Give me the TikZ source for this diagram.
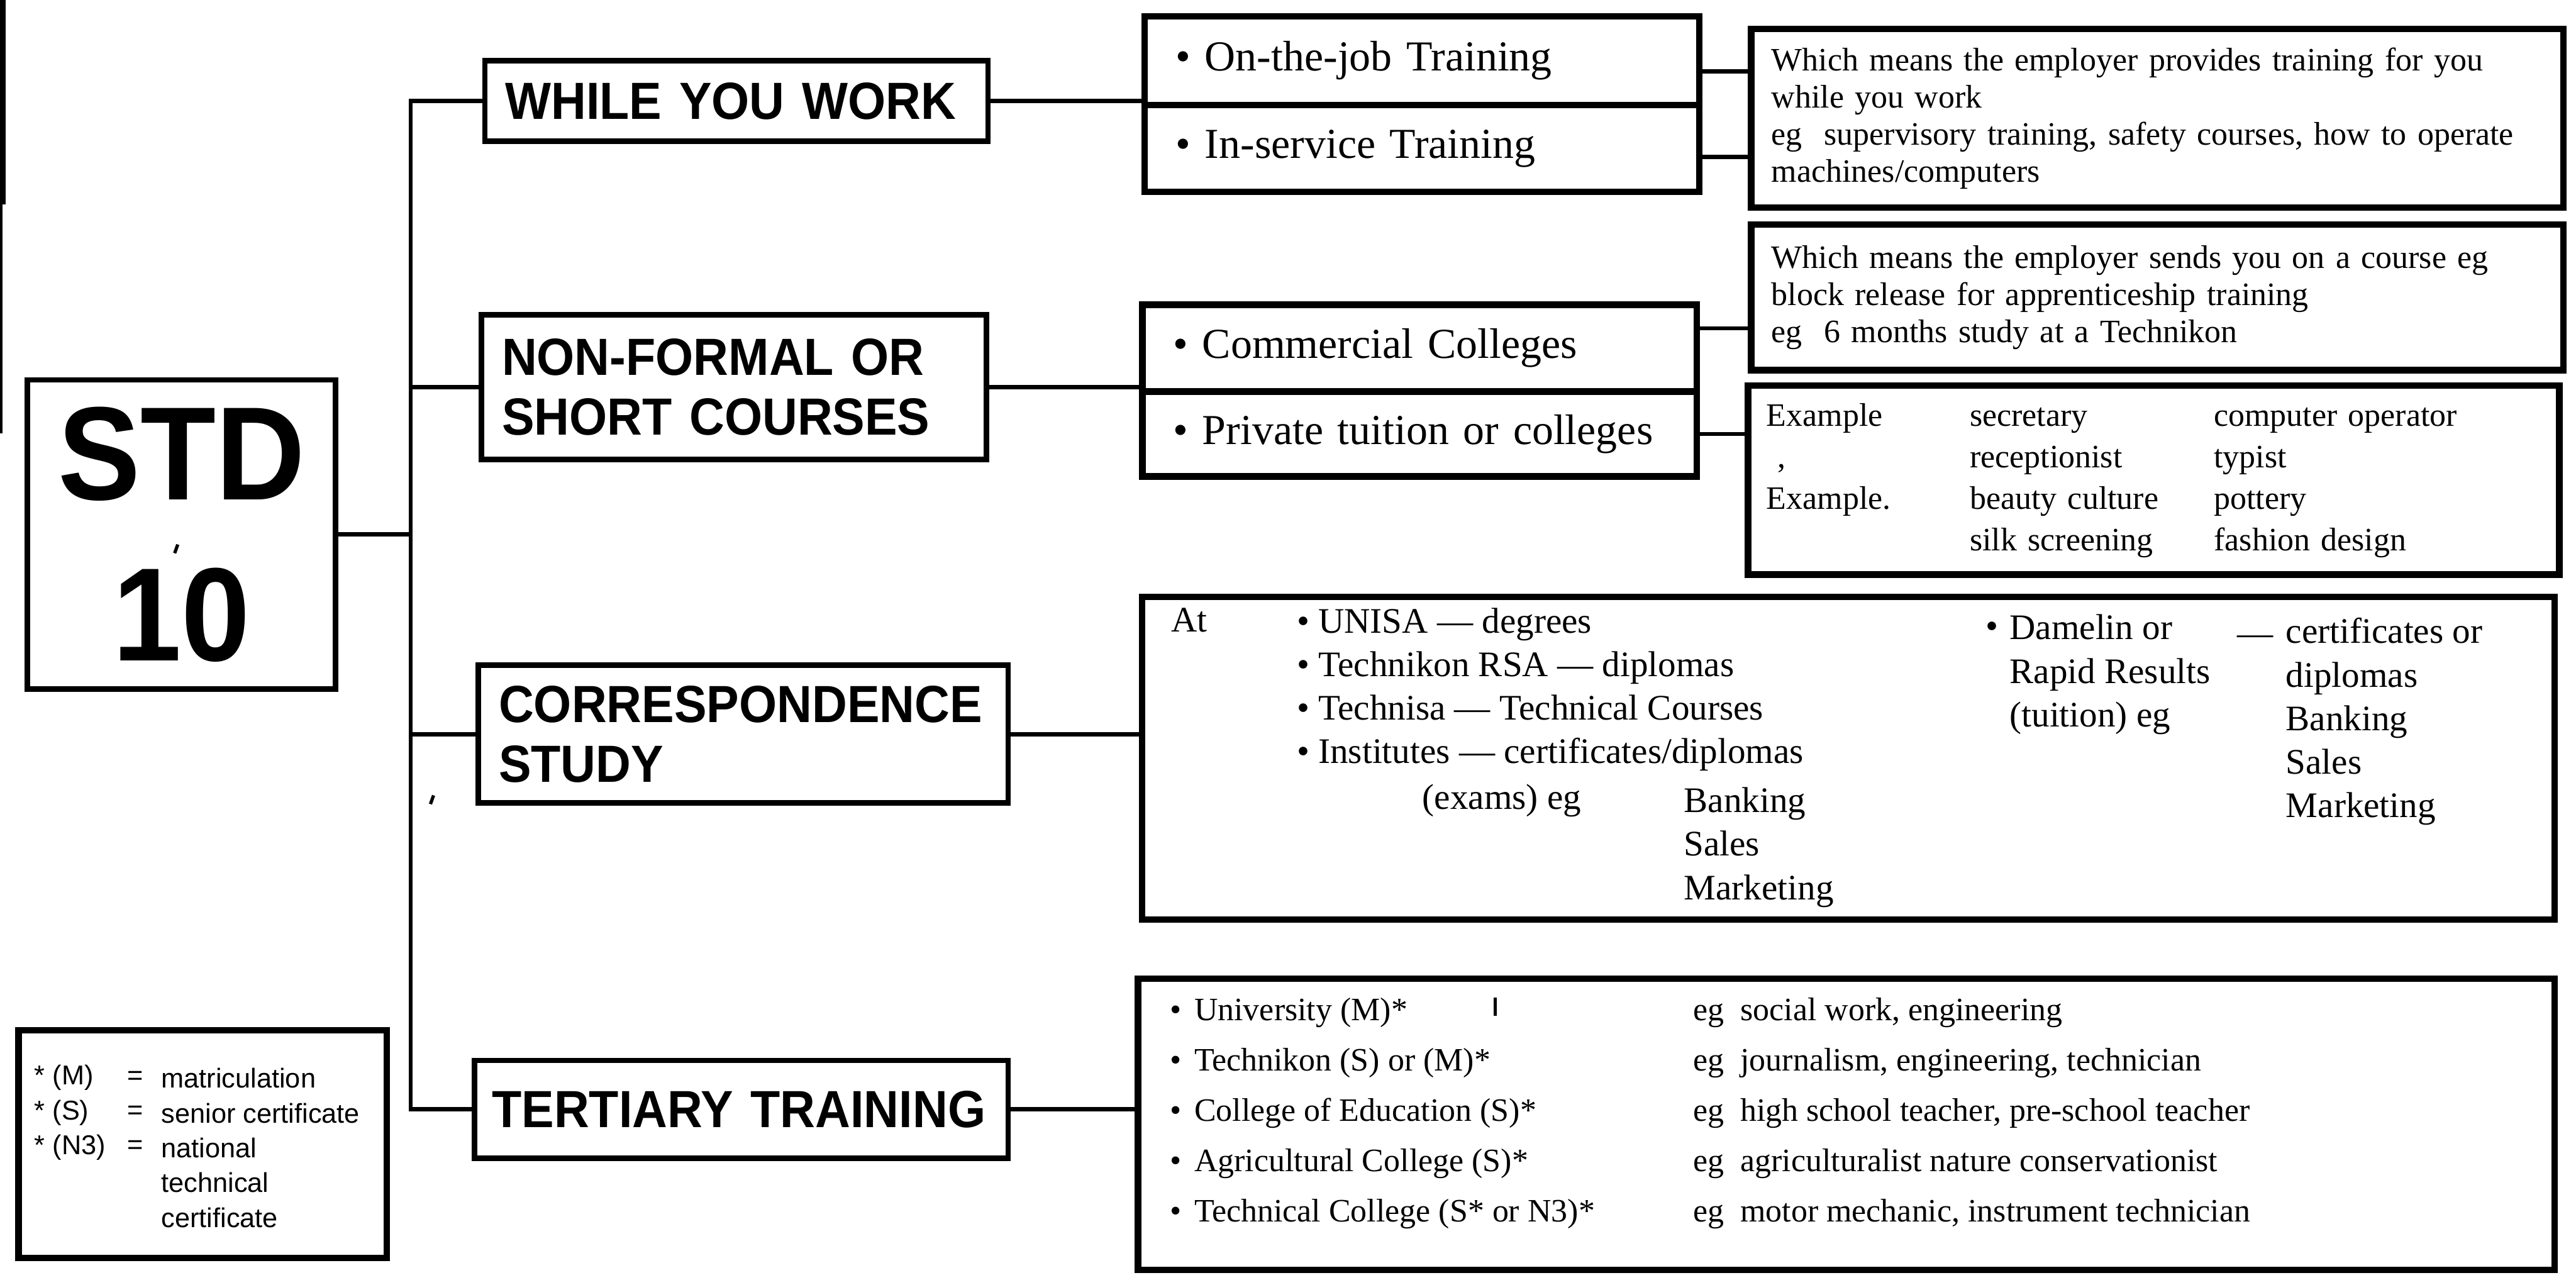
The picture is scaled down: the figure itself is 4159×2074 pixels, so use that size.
\documentclass[tikz,border=0pt]{standalone}
\usepackage{fontspec}
\setmainfont{Liberation Serif}
\setsansfont{Liberation Sans}
\newfontfamily\headfont{Liberation Sans}[FakeStretch=0.93]
\usetikzlibrary{positioning,scopes}

\begin{document}
\begin{tikzpicture}[
    x=0.01cm, y=-0.01cm,
    cat/.style={draw, line width=2.5pt, outer sep=0pt, inner xsep=0.33cm, align=left, font=\headfont\bfseries\fontsize{24}{27.5}\selectfont},
    grp/.style={draw, line width=3pt, outer sep=0pt, inner xsep=0.5cm, text width=7.95cm, minimum height=1.4cm, align=left, font=\fontsize{19.6}{24}\selectfont},
    info/.style={draw, line width=3pt, outer sep=0pt, inner xsep=0.33cm, align=left, font=\fontsize{15}{17}\selectfont},
    txt/.style={inner sep=0pt, align=left, anchor=west},
    link/.style={line width=2pt},
    speck/.style={line width=1.5pt},
]
\useasboundingbox (0,0) rectangle (4159,2074);

% main column
\node[cat, inner xsep=0pt, text width=4.97cm, align=center, minimum height=4.99cm, font=\headfont\bfseries\fontsize{61}{74}\selectfont] (std) at (293,863) {STD\\10};
\node[cat, text width=7.46cm, minimum height=1.3cm] (while) at (1189,163) {WHILE YOU WORK};
\node[cat, text width=7.49cm, minimum height=2.33cm] (nonf) at (1185,625) {NON-FORMAL OR\\SHORT COURSES};
\node[cat, text width=7.89cm, minimum height=2.22cm] (corr) at (1200,1185) {CORRESPONDENCE\\STUDY};
\node[cat, inner xsep=0.28cm, text width=8.05cm, minimum height=1.58cm] (tert) at (1197,1791) {TERTIARY~TRAINING};

% second column
\node[grp, minimum height=1.43cm] (job) at (2296,98) {\textbullet\ On-the-job Training};
\node[grp, below=0pt of job] (serv) {\textbullet\ In-service Training};
\node[grp] (comm) at (2292,562) {\textbullet\ Commercial Colleges};
\node[grp, minimum height=1.37cm, below=0pt of comm] (priv) {\textbullet\ Private tuition or colleges};

% explanations
\node[info, text width=12.45cm, minimum height=2.88cm] (d1) at (3483,191) {Which means the employer provides training for you\\while you work\\eg\ \ supervisory training, safety courses, how to operate\\machines/computers};
\node[info, text width=12.45cm, minimum height=2.35cm] (d2) at (3483,480) {Which means the employer sends you on a course eg\\block release for apprenticeship training\\eg\ \ 6 months study at a Technikon};
\node[info, inner xsep=0.3cm, text width=12.49cm, minimum height=3.05cm, font=\fontsize{15}{19}\selectfont] (d3) at (3477,775) {%
  \begin{tabular}{@{}p{3.28cm}@{}p{3.94cm}@{}l@{}}
  Example & secretary & computer operator\\
  \ , & receptionist & typist\\
  Example. & beauty culture & pottery\\
  & silk screening & fashion design
  \end{tabular}};

% correspondence box
\node[info, minimum width=22.79cm, minimum height=5.2cm] (d4) at (2984,1224) {};
{[every node/.style={txt, font=\fontsize{16.5}{20}\selectfont}]
\node (at) at (1890,1001) {At};
\node (places) at (2093,1113) {\textbullet{} UNISA — degrees\\\textbullet{} Technikon RSA — diplomas\\\textbullet{} Technisa — Technical Courses\\\textbullet{} Institutes — certificates/diplomas};
\node (exams) at (2296,1292) {(exams) eg};
\node (exlist) at (2718,1368) {Banking\\Sales\\Marketing};
\node (dot) at (3205,1017) {\textbullet};
\node (damelin) at (3244,1089) {Damelin or\\Rapid Results\\(tuition) eg};
\node (dash) at (3611,1034) {—};
\node (certs) at (3690,1165) {certificates or\\diplomas\\Banking\\Sales\\Marketing};
}

% tertiary box
\node[info, minimum width=22.86cm, minimum height=4.7cm] (d5) at (2981,1815) {};
{[every node/.style={txt, font=\fontsize{15}{23.1}\selectfont}]
\node (inst) at (1888,1797) {\textbullet\hspace{6pt}University (M)*\\\textbullet\hspace{6pt}Technikon (S) or (M)*\\\textbullet\hspace{6pt}College of Education (S)*\\\textbullet\hspace{6pt}Agricultural College (S)*\\\textbullet\hspace{6pt}Technical College (S* or N3)*};
\node (jobs) at (2733,1797) {eg\ \ social work, engineering\\eg\ \ journalism, engineering, technician\\eg\ \ high school teacher, pre-school teacher\\eg\ \ agriculturalist nature conservationist\\eg\ \ motor mechanic, instrument technician};
}

% key
\node[draw, line width=3pt, minimum width=5.94cm, minimum height=3.67cm] (key) at (327,1847) {};
{[every node/.style={txt, font=\sffamily\fontsize{12.5}{16}\selectfont}]
\node (keyA) at (55,1796) {* (M)\\* (S)\\* (N3)};
\node (keyB) at (205,1796) {=\\=\\=};
\node (keyC) at (260,1853) {matriculation\\senior certificate\\national\\technical\\certificate};
}

% connectors
\coordinate (trunk) at (663,0);
{[link]
\draw (std.east) -- (std.east -| trunk);
\draw (while.west) -- (while.west -| trunk) -- (tert.west -| trunk) -- (tert.west);
\draw (nonf.west) -- (nonf.west -| trunk);
\draw (corr.west) -- (corr.west -| trunk);
\draw (while.east) -- (while.east -| job.west);
\draw (nonf.east) -- (nonf.east -| comm.west);
\draw ([yshift=-4.8pt]job.east) -- ([yshift=-4.8pt]job.east -| d1.west);
\draw ([yshift=-3.8pt]serv.east) -- ([yshift=-3.8pt]serv.east -| d1.west);
\draw ([yshift=9.1pt]comm.east) -- ([yshift=9.1pt]comm.east -| d2.west);
\draw (priv.east) -- (priv.east -| d3.west);
\draw (corr.east) -- (corr.east -| d4.west);
\draw (tert.east) -- (tert.east -| d5.west);
}

% stray marks
{[speck]
\draw[line width=3pt] (4,0) -- (4,330); % edge
\draw[line width=1pt] (2,330) -- (2,700);
\draw (287,879) -- (282,893);
\draw (700,1284) -- (695,1298);
\draw (2414,1610) -- (2414,1640);
}
\end{tikzpicture}
\end{document}
